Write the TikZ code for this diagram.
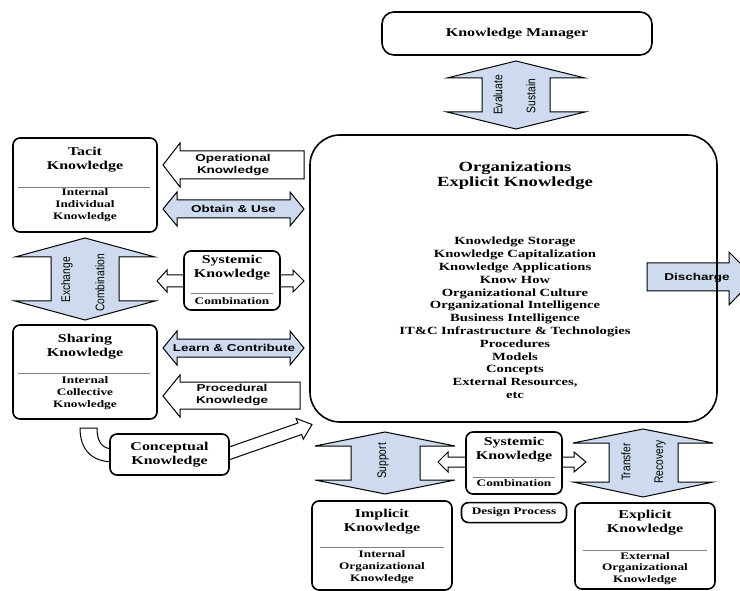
\documentclass[tikz,border=0pt]{standalone}
\usepackage{fontspec}
\setmainfont[FakeStretch=1.33]{Liberation Serif}
\newfontfamily\arrowfont[FakeStretch=1.35]{Liberation Sans}
\newfontfamily\turnfont[FakeStretch=0.82]{Liberation Sans}
\usepackage{tikz}
\usetikzlibrary{positioning}
\usepackage{xcolor}
\definecolor{arrowblue}{RGB}{206,219,238}

\begin{document}
\begin{tikzpicture}[x=1pt,y=-1pt,line join=miter,
	box/.style={draw,line width=1.6pt,rounded corners=7pt,fill=white},
	title/.style={font=\bfseries\fontsize{12}{14}\selectfont,align=center,inner sep=0pt},
	sub/.style={font=\bfseries\fontsize{10}{11.8}\selectfont,align=center,inner sep=0pt},
	lbl/.style={font=\arrowfont\bfseries\fontsize{10}{11.5}\selectfont,align=center,inner sep=0pt},
	turn/.style={font=\turnfont\fontsize{12.5}{14}\selectfont,rotate=90,inner sep=0pt},
	bluearrow/.style={draw,line width=1pt,fill=arrowblue},
	whitearrow/.style={draw,line width=1pt,fill=white},
	divider/.style={draw=gray,line width=0.8pt}]
		\useasboundingbox (0,0) rectangle (740,591);
		\clip (0,0) rectangle (740,591);

		\draw[bluearrow] (647,263) -- (729,263) -- (729,252) -- (755,278) -- (729,305) -- (729,291) -- (647,291) -- cycle;
		\node[lbl] (dis) at (697,278) {Discharge};

		\node[draw,line width=1.6pt,rounded corners=30pt,minimum width=407pt,minimum height=287pt] (org) at (513.5,278.5) {};
		\node[font=\bfseries\fontsize{14}{15}\selectfont,align=center,inner sep=0pt] (org-t) at (515,175.5) {Organizations\\Explicit Knowledge};
		\node[font=\bfseries\fontsize{11}{12.8}\selectfont,align=center,inner sep=0pt] (org-l) at (515,318) {Knowledge Storage\\Knowledge Capitalization\\Knowledge Applications\\Know How\\Organizational Culture\\Organizational Intelligence\\Business Intelligence\\IT\&C Infrastructure \& Technologies\\Procedures\\Models\\Concepts\\External Resources,\\etc};

		\draw[bluearrow] (516,61) -- (585,78) -- (550,78) -- (550,112) -- (585,112) -- (516,129) -- (447,112) -- (482,112) -- (482,78) -- (447,78) -- cycle;
		\draw[bluearrow] (85,238) -- (155,257) -- (119,257) -- (119,301) -- (155,301) -- (85,320) -- (15,301) -- (51,301) -- (51,257) -- (15,257) -- cycle;
		\draw[bluearrow] (385,432) -- (455,446) -- (420,446) -- (420,480) -- (455,480) -- (385,494) -- (315,480) -- (351,480) -- (351,446) -- (315,446) -- cycle;
		\draw[bluearrow] (643,429) -- (713,443) -- (678,443) -- (678,482) -- (713,482) -- (643,497) -- (573,482) -- (609,482) -- (609,443) -- (573,443) -- cycle;

		\draw[bluearrow] (163,209) -- (177,192) -- (177,200) -- (290,200) -- (290,192) -- (304,209) -- (290,226) -- (290,218) -- (177,218) -- (177,226) -- cycle;
		\draw[bluearrow] (163,348) -- (177,331) -- (177,339) -- (290,339) -- (290,331) -- (304,348) -- (290,365) -- (290,357) -- (177,357) -- (177,365) -- cycle;
		\draw[whitearrow] (163,165) -- (180,143) -- (180,151) -- (304,151) -- (304,179) -- (180,179) -- (180,187) -- cycle;
		\draw[whitearrow] (163,396) -- (180,375) -- (180,382) -- (300,382) -- (300,409) -- (180,409) -- (180,417) -- cycle;

		\draw[whitearrow] (157,281) -- (167,270) -- (167,275) -- (188,275) -- (188,287) -- (167,287) -- (167,292) -- cycle;
		\draw[whitearrow] (304,281) -- (293,270) -- (293,275) -- (276,275) -- (276,287) -- (293,287) -- (293,292) -- cycle;
		\draw[whitearrow] (438,462) -- (448,452) -- (448,457) -- (470,457) -- (470,467) -- (448,467) -- (448,472) -- cycle;
		\draw[whitearrow] (586,462) -- (574,452) -- (574,457) -- (558,457) -- (558,467) -- (574,467) -- (574,472) -- cycle;

		\draw[whitearrow] (80,428) -- (97,428) .. controls (97,442) and (102,449) .. (114,449) -- (114,462) .. controls (92,462) and (80,450) .. (80,428) -- cycle;
		\draw[whitearrow] (224,448.8) -- (297.8,423.1) -- (296.1,418.4) -- (312,424.5) -- (303.3,439.2) -- (301.7,434.5) -- (228,460.2) -- cycle;

		\node[box,rounded corners=12pt,minimum width=270pt,minimum height=43pt,font=\bfseries\fontsize{12}{14}\selectfont] (km) at (517,33.5) {Knowledge Manager};

		\node[box,minimum width=144pt,minimum height=94pt] (tacit) at (85,185) {};
		\node[title] (tacit-t) at (85,160) {Tacit\\Knowledge};
		\draw[divider] (18,187) -- (150,187);
		\node[sub] (tacit-s) at (85,205) {Internal\\Individual\\Knowledge};

		\node[box,minimum width=96pt,minimum height=59pt] (sysl) at (232,280.5) {};
		\node[title] (sysl-t) at (232,267.5) {Systemic\\Knowledge};
		\draw[divider] (191,293) -- (273,293);
		\node[sub] (sysl-s) at (232,301.5) {Combination};

		\node[box,minimum width=144pt,minimum height=94pt] (sharing) at (85,372) {};
		\node[title] (sharing-t) at (85,347) {Sharing\\Knowledge};
		\draw[divider] (18,373) -- (150,373);
		\node[sub] (sharing-s) at (85,393) {Internal\\Collective\\Knowledge};

		\node[box,title,minimum width=119pt,minimum height=41pt] (concept) at (169.5,454.5) {Conceptual\\Knowledge};

		\node[box,minimum width=96pt,minimum height=62pt] (sysb) at (514,463) {};
		\node[title] (sysb-t) at (514,449.5) {Systemic\\Knowledge};
		\draw[divider] (473,477) -- (555,477);
		\node[sub] (sysb-s) at (514,483.5) {Combination};
		\node[box,sub,minimum width=105pt,minimum height=20pt] (design) [below=7pt of sysb] {Design Process};

		\node[box,minimum width=140pt,minimum height=89pt] (implicit) at (382,545.5) {};
		\node[title] (implicit-t) at (382,522) {Implicit\\Knowledge};
		\draw[divider] (320,547) -- (444,547);
		\node[sub] (implicit-s) at (382,567) {Internal\\Organizational\\Knowledge};

		\node[box,minimum width=140pt,minimum height=86pt] (explicit) at (645,546) {};
		\node[title] (explicit-t) at (645,523) {Explicit\\Knowledge};
		\draw[divider] (583,550) -- (707,550);
		\node[sub] (explicit-s) at (645,568.5) {External\\Organizational\\Knowledge};

		\node[lbl] (oper) at (233,165) {Operational\\Knowledge};
		\node[lbl] (obtain) at (233.5,209) {Obtain \& Use};
		\node[lbl] (learn) at (234,348) {Learn \& Contribute};
		\node[lbl] (proc) at (232,395) {Procedural\\Knowledge};

		\node[turn] (evaluate) at (498,95) {Evaluate};
		\node[turn] (sustain) at (531,96) {Sustain};
		\node[turn] (exchange) at (67,280) {Exchange};
		\node[turn] (combination) at (100,283) {Combination};
		\node[turn] (support) at (383,461) {Support};
		\node[turn] (transfer) at (626,462) {Transfer};
		\node[turn] (recovery) at (660,462) {Recovery};
\end{tikzpicture}
\end{document}
